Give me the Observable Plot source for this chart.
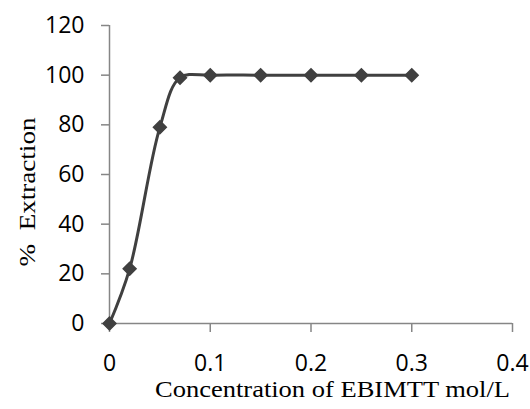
<!DOCTYPE html>
<html>
<head>
<meta charset="utf-8">
<script src="https://cdn.jsdelivr.net/npm/d3@7"></script>
<script src="https://cdn.jsdelivr.net/npm/@observablehq/plot@0.6"></script>
<style>
  html, body { margin: 0; padding: 0; background: #fff; }
  #chart { width: 530px; height: 409px; }
</style>
</head>
<body>
<div id="chart"></div>
<script>
const concentration = [0, 0.02, 0.05, 0.07, 0.1, 0.15, 0.2, 0.25, 0.3];
const extraction = [0, 22, 79, 99, 100, 100, 100, 100, 100];
const xTicks = [0, 0.1, 0.2, 0.3, 0.4];
const yTicks = [0, 20, 40, 60, 80, 100, 120];
const xTitle = "Concentration of EBIMTT mol/L";
const yTitle = "%  Extraction";

const data = concentration.map((c, i) => ({c, e: extraction[i]}));

const axisColor = "#868686";
const lineColor = "#404040";
const tickFont = "'Open Sans', sans-serif";

const chart = Plot.plot({
  width: 530,
  height: 409,
  marginLeft: 109,
  marginRight: 18,
  marginTop: 25,
  marginBottom: 86,
  style: {fontFamily: tickFont, color: "#000", background: "#fff"},
  x: {domain: [0, 0.4]},
  y: {domain: [0, 120]},
  marks: [
    Plot.ruleY([0], {stroke: axisColor, strokeWidth: 1.5}),
    Plot.ruleX([0], {stroke: axisColor, strokeWidth: 1.5}),
    Plot.axisX({ticks: xTicks, tickSize: 9, tickPadding: 22, stroke: axisColor, strokeWidth: 1.5, tickFormat: d => String(d), fill: "#000", fontSize: 23, fontFamily: tickFont, label: null}),
    Plot.axisY({ticks: yTicks, tickSize: 8, tickPadding: 17, stroke: axisColor, strokeWidth: 1.5, fill: "#000", fontSize: 23, fontFamily: tickFont, label: null}),
    Plot.line(data, {x: "c", y: "e", curve: "catmull-rom", stroke: lineColor, strokeWidth: 3}),
    Plot.dot(data, {x: "c", y: "e", symbol: "diamond2", r: 5.8, fill: lineColor, stroke: lineColor})
  ]
});

const svg = d3.select(chart);
svg.append("text")
  .attr("x", 510).attr("y", 397)
  .attr("text-anchor", "end")
  .attr("textLength", 355)
  .attr("lengthAdjust", "spacingAndGlyphs")
  .style("font-family", "'Liberation Serif', 'Times New Roman', serif")
  .style("font-size", "24px")
  .attr("fill", "#000")
  .text(xTitle);
svg.append("text")
  .attr("transform", "translate(35,192) rotate(-90)")
  .attr("text-anchor", "middle")
  .attr("textLength", 149)
  .attr("lengthAdjust", "spacingAndGlyphs")
  .style("font-family", "'Liberation Serif', 'Times New Roman', serif")
  .style("font-size", "24px")
  .style("white-space", "pre")
  .attr("fill", "#000")
  .text(yTitle);

document.getElementById("chart").appendChild(chart);
</script>
</body>
</html>
